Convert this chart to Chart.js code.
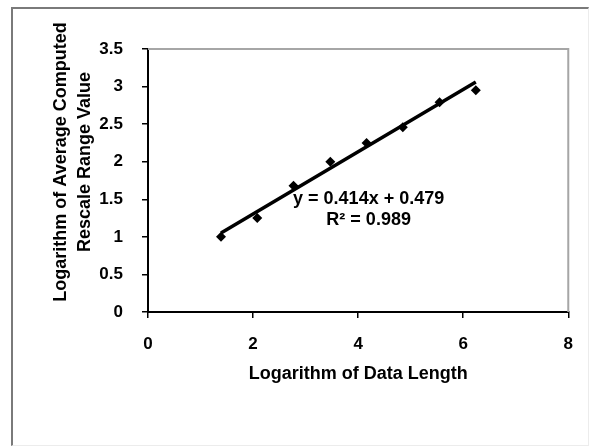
<!DOCTYPE html>
<html>
<head>
<meta charset="utf-8">
<script src="https://cdn.jsdelivr.net/npm/chart.js@4.4.1/dist/chart.umd.min.js"></script>
<style>
    html, body { margin: 0; padding: 0; background: #fff; }
    #wrap { position: relative; width: 589px; height: 446px; }
    #frame {
        position: absolute; left: 11px; top: 7px; width: 575px; height: 436px;
        border-left: 2px solid #7a7a7a; border-top: 2px solid #7a7a7a;
        border-right: 1px solid #ececec; border-bottom: 1px solid #ececec;
    }
    #box { position: absolute; left: 0; top: 0; width: 589px; height: 446px; }
</style>
</head>
<body>
<div id="wrap">
    <div id="frame"></div>
    <div id="box"><canvas id="chart"></canvas></div>
</div>
<script>
/* Rescaled range analysis – log(R/S) against log(n) */

const lnLength = [1.39, 2.08, 2.77, 3.47, 4.16, 4.85, 5.55, 6.24];
const lnRescaledRange = [1.00, 1.25, 1.68, 2.00, 2.25, 2.46, 2.79, 2.95];

// fitted line, end points
const trendX = [1.39, 6.24];
const trendY = [1.05, 3.06];

const xRange = [0, 8];
const xStep = 2;
const yRange = [0, 3.5];
const yStep = 0.5;

const xTitle = 'Logarithm of Data Length';
const yTitle = ['Logarithm of Average Computed', 'Rescale Range Value'];
const fitLabel = ['y = 0.414x + 0.479', 'R\u00B2 = 0.989'];
const fitLabelAt = [4.2, 1.5];

const FONT = '"Liberation Sans", Arial, sans-serif';
const INK = '#000000';

const extras = {
    id: 'extras',
    afterDraw(chart) {
        const { ctx, chartArea: a, scales } = chart;
        ctx.save();

        // grey frame of the plot area (top and right)
        ctx.strokeStyle = '#a6a6a6';
        ctx.lineWidth = 2;
        ctx.beginPath();
        ctx.moveTo(a.left, a.top);
        ctx.lineTo(a.right, a.top);
        ctx.lineTo(a.right, a.bottom);
        ctx.stroke();

        ctx.fillStyle = INK;
        ctx.font = 'bold 18px ' + FONT;
        ctx.textAlign = 'center';
        ctx.textBaseline = 'middle';

        // x title
        ctx.fillText(xTitle, (a.left + a.right) / 2, 374);

        // y title, two lines
        ctx.save();
        ctx.translate(61, 162);
        ctx.rotate(-Math.PI / 2);
        yTitle.forEach((line, i) => ctx.fillText(line, 0, i * 24));
        ctx.restore();

        // regression label
        const lx = scales.x.getPixelForValue(fitLabelAt[0]);
        const ly = scales.y.getPixelForValue(fitLabelAt[1]);
        fitLabel.forEach((line, i) => ctx.fillText(line, lx, ly + i * 21));

        ctx.restore();
    },
};

const axisCommon = {
    grid: { drawOnChartArea: false, drawTicks: true, tickLength: 6, color: INK, lineWidth: 1.5 },
    border: { color: INK, width: 2 },
};

const tickFont = { size: 17, weight: 'bold', family: FONT };

new Chart(document.getElementById('chart'), {
    type: 'scatter',
    data: {
        datasets: [
            {
                label: 'fit',
                data: trendX.map((x, i) => ({ x, y: trendY[i] })),
                showLine: true,
                borderColor: INK,
                borderWidth: 3.5,
                pointRadius: 0,
            },
            {
                label: 'log R/S',
                data: lnLength.map((x, i) => ({ x, y: lnRescaledRange[i] })),
                pointStyle: 'rectRot',
                pointRadius: 5,
                backgroundColor: INK,
                borderColor: INK,
                borderWidth: 0,
            },
        ],
    },
    options: {
        responsive: true,
        maintainAspectRatio: false,
        animation: false,
        layout: { padding: { top: 49, right: 19, bottom: 0, left: 0 } },
        plugins: { legend: { display: false }, tooltip: { enabled: false } },
        scales: {
            x: {
                ...axisCommon,
                min: xRange[0], max: xRange[1],
                ticks: { stepSize: xStep, color: INK, padding: 16, font: tickFont, callback: (v) => String(v) },
                afterFit: (s) => { s.height = 134; },
            },
            y: {
                ...axisCommon,
                min: yRange[0], max: yRange[1],
                ticks: { stepSize: yStep, color: INK, padding: 19, font: tickFont, callback: (v) => String(v) },
                afterFit: (s) => { s.width = 148; },
            },
        },
    },
    plugins: [extras],
});
</script>
</body>
</html>
